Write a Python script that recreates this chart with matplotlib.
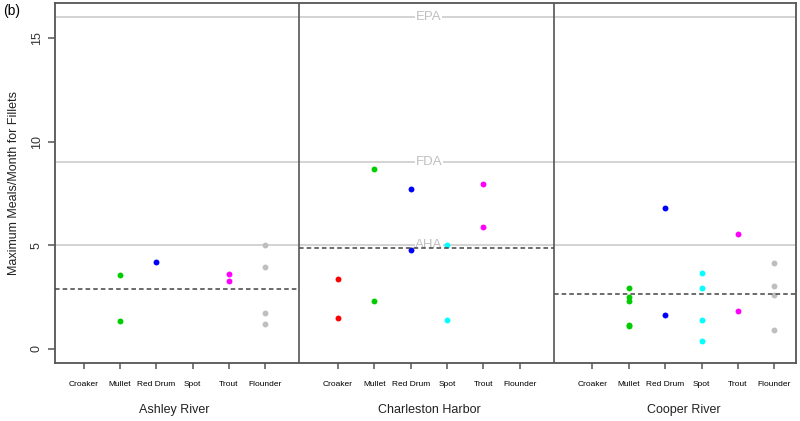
import numpy as np
import matplotlib
matplotlib.use("Agg")
import matplotlib.pyplot as plt

plt.rcParams["font.family"] = ["Liberation Sans", "DejaVu Sans"]

# species order and colours (same in every site)
species = ["Croaker", "Mullet", "Red Drum", "Spot", "Trout", "Flounder"]
species_colors = ["#FF0000", "#00CD00", "#0000FF", "#00FFFF", "#FF00FF", "#BEBEBE"]
sites = ["Ashley River", "Charleston Harbor", "Cooper River"]

# maximum meals/month for fillets, one list per species per site
ashley = [
    [],
    [3.55, 1.32],
    [4.21],
    [],
    [3.62, 3.27],
    [5.0, 3.97, 1.71, 1.19],
]
charleston = [
    [3.38, 1.50],
    [8.70, 2.33],
    [7.72, 4.79],
    [5.0, 1.40],
    [7.96, 5.89],
    [],
]
cooper = [
    [],
    [2.96, 2.48, 2.32, 1.14, 1.10],
    [6.79, 1.61],
    [3.65, 2.93, 1.40, 0.36],
    [5.53, 1.85],
    [4.13, 3.01, 2.62, 0.90],
]
site_data = [ashley, charleston, cooper]
site_means = [2.89, 4.89, 2.65]

# advisory guideline levels
guides = ["EPA", "FDA", "AHA"]
guide_levels = [16, 9, 5]

fig = plt.figure(figsize=(8, 4.21), dpi=100)
ax = fig.add_axes([0.069, 0.138, 0.926, 0.855])

frame_col = "#555555"
x_offsets = [1, 8, 15]
dividers = [6.93, 13.93]
bounds = [0.215, 6.93, 13.93, 20.6]

# guideline lines
for lvl in guide_levels:
    ax.axhline(lvl, color="#D3D3D3", lw=1.4, zorder=1)
for name, lvl in zip(guides, guide_levels):
    ax.text(10.5, lvl, name, ha="center", va="center", fontsize=9.5,
            color="#C0C0C0", zorder=2,
            bbox=dict(facecolor="white", edgecolor="none", pad=0.5))

# points
for s, data in enumerate(site_data):
    for i, vals in enumerate(data):
        if vals:
            xs = np.full(len(vals), x_offsets[s] + i)
            ax.scatter(xs, vals, s=18, color=species_colors[i], zorder=3,
                       linewidths=0)
    # site mean, dashed
    ax.plot([bounds[s], bounds[s + 1]], [site_means[s]] * 2, ls=(0, (3, 2)),
            color="#444444", lw=1.1, zorder=4)

for d in dividers:
    ax.axvline(d, color=frame_col, lw=1.2, zorder=5)

ax.set_xlim(bounds[0], bounds[-1])
ax.set_ylim(-0.68, 16.7)

ticks = [x_offsets[s] + i for s in range(3) for i in range(len(species))]
ax.set_xticks(ticks)
ax.set_xticklabels(species * 3, fontsize=6)
ax.tick_params(axis="x", length=4.5, pad=8.5, color=frame_col, width=1.1)
ax.set_yticks([0, 5, 10, 15])
ax.set_yticklabels(["0", "5", "10", "15"], rotation=90, va="center",
                   fontsize=9, color="#333333")
ax.tick_params(axis="y", length=5, pad=4, color=frame_col, width=1.1)
for sp in ax.spines.values():
    sp.set_color(frame_col)
    sp.set_linewidth(1.3)

for s, site in enumerate(sites):
    ax.text(x_offsets[s] + 2.5, -0.115, site, transform=ax.get_xaxis_transform(),
            ha="center", va="top", fontsize=9, color="#222222")

ax.set_ylabel("Maximum Meals/Month for Fillets", fontsize=9, labelpad=8,
              color="#222222")
fig.text(0.004, 0.99, "(b)", fontsize=10, ha="left", va="top")

fig.savefig("out.png", dpi=100)
